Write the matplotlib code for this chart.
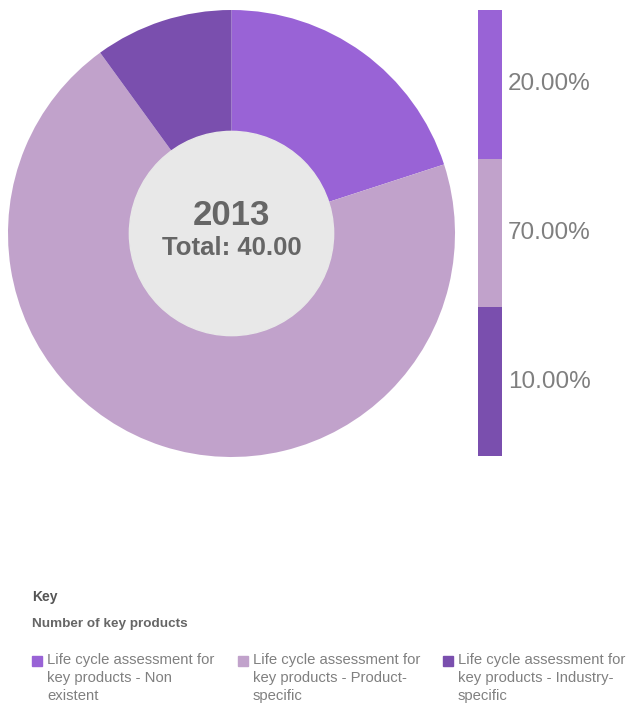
import matplotlib.pyplot as plt
from matplotlib.patches import Circle, Rectangle

plt.rcParams['font.family'] = ['Liberation Sans', 'DejaVu Sans']

year = '2013'
total = 40.00
shares = [20.0, 70.0, 10.0]
colors = ['#9963d6', '#c1a2cb', '#7a4fae']
labels = ['Life cycle assessment for\nkey products - Non\nexistent',
          'Life cycle assessment for\nkey products - Product-\nspecific',
          'Life cycle assessment for\nkey products - Industry-\nspecific']

W, H = 629, 709
fig = plt.figure(figsize=(W / 100, H / 100), dpi=100)


def box(x0, y0, x1, y1):
    # pixel box (top-left origin) -> figure fraction rect
    return [x0 / W, 1 - y1 / H, (x1 - x0) / W, (y1 - y0) / H]


# donut
ax = fig.add_axes(box(8, 10, 455, 457))
ax.pie(shares, colors=colors, startangle=90, counterclock=False,
       radius=1.0, wedgeprops=dict(linewidth=0))
ax.add_patch(Circle((0, 0), 0.457, color='#e8e8e8', zorder=3))
ax.text(0, 0.08, year, ha='center', va='center', fontsize=25,
        fontweight='bold', color='#666666', zorder=4)
ax.text(0, -0.065, f'Total: {total:.2f}', ha='center', va='center',
        fontsize=18.5, fontweight='bold', color='#666666', zorder=4)
ax.set_xlim(-1, 1)
ax.set_ylim(-1, 1)
ax.set_aspect('equal')
ax.axis('off')

# side bar, equal-height segments
bx = fig.add_axes(box(478, 10, 502, 456))
n = len(shares)
for i, (s, c) in enumerate(zip(shares, colors)):
    bx.bar(0, 1, bottom=n - 1 - i, width=1, color=c, linewidth=0)
    bx.text(0.75, n - 1 - i + 0.5, f'{s:.2f}%', ha='left', va='center',
            fontsize=17.5, color='#7f7f7f', clip_on=False)
bx.set_xlim(-0.5, 0.5)
bx.set_ylim(0, n)
bx.axis('off')

# key
fig.text(32 / W, 1 - 597 / H, 'Key', ha='left', va='center',
         fontsize=10, fontweight='bold', color='#555555')
fig.text(32 / W, 1 - 624 / H, 'Number of key products', ha='left',
         va='center', fontsize=9.7, fontweight='bold', color='#666666')
for x, c, lab in zip([32, 238, 443], colors, labels):
    fig.patches.append(Rectangle((x / W, 1 - 666 / H), 10 / W, 10 / H,
                                 transform=fig.transFigure, color=c))
    fig.text((x + 15) / W, 1 - 653 / H, lab, ha='left', va='top',
             fontsize=10.7, color='#808080', linespacing=1.35)

fig.savefig('out.png', dpi=100)
